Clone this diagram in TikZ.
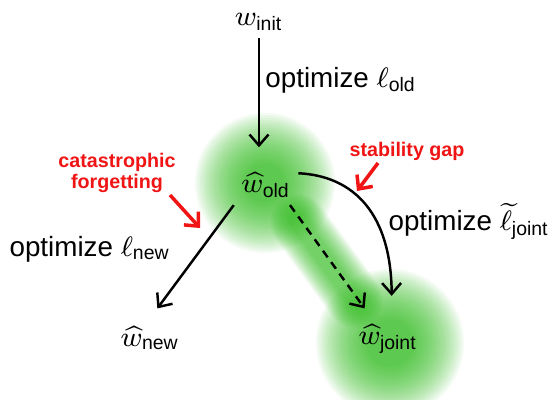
\documentclass[tikz,border=0pt]{standalone}
\usepackage{amsmath}
\usepackage{fontspec}
\setmainfont{Liberation Sans}
\usetikzlibrary{arrows.meta,calc}
\definecolor{blobgreen}{RGB}{30,180,10}
\definecolor{warnred}{RGB}{240,20,20}

\begin{document}
\begin{tikzpicture}[
    x=0.01cm, y=-0.01cm,
    every node/.style={font=\fontsize{7.9}{10}\selectfont},
    state/.style={inner sep=2pt},
    blob/.style={fill=blobgreen, draw=none, opacity=0.055},
    band/.style={draw=blobgreen, opacity=0.045, line cap=round},
    link/.style={-{Straight Barb[length=3.1pt, width=5.4pt]}, line width=0.7pt},
    warn/.style={text=warnred, font=\fontsize{5.6}{6}\selectfont\bfseries, align=center},
    hint/.style={-{Straight Barb[length=3pt, width=5.6pt]}, draw=warnred, line width=1pt}
]
\useasboundingbox (0,0) rectangle (551,400);

% green regions
\foreach \k in {0,...,21} {
    \fill[blob] (265,183) circle[radius={70-2.4*\k}] (390,343) circle[radius={74-2.4*\k}];
    \draw[band, line width={16pt-0.55pt*\k}] (298,222) -- (355,300);
}

% weights
\node[state] (init) at (259,22) {$w_{\text{init}}$};
\node[state] (old) at (266,185) {$\widehat{w}_{\text{old}}$};
\node[state] (new) at (150,338) {$\widehat{w}_{\text{new}}$};
\node[state] (joint) at (388,339) {$\widehat{w}_{\text{joint}}$};

% labels
\node (optold) at (341,80) {optimize $\ell_{\text{old}}$};
\node (optnew) at (90,249) {optimize $\ell_{\text{new}}$};
\node (optjoint) at (469,221) {optimize $\widetilde{\ell}_{\text{joint}}$};
\node[warn] (gap) at (407,151) {stability gap};
\node[warn] (forget) at (117,173) {catastrophic\\forgetting};
\coordinate (gaptail) at (378,163);
\coordinate (gaptip) at (357,191);
\coordinate (forgettail) at (170,195);
\coordinate (forgettip) at (200,228);

% paths
\draw[link, shorten >=5pt] (init.south) -- (init.south |- old.north);
\draw[link, shorten >=3.5pt] (old.-148) -- (new.north);
\draw[link, dash pattern=on 2.3pt off 1.7pt, shorten >=3pt] (old.-40) -- (joint.128);
\draw[link, shorten >=6pt] (old.20) .. controls (355,176) and (391,215) .. (joint.80);
\draw[hint] (gaptail) -- (gaptip);
\draw[hint] (forgettail) -- (forgettip);
\end{tikzpicture}
\end{document}
